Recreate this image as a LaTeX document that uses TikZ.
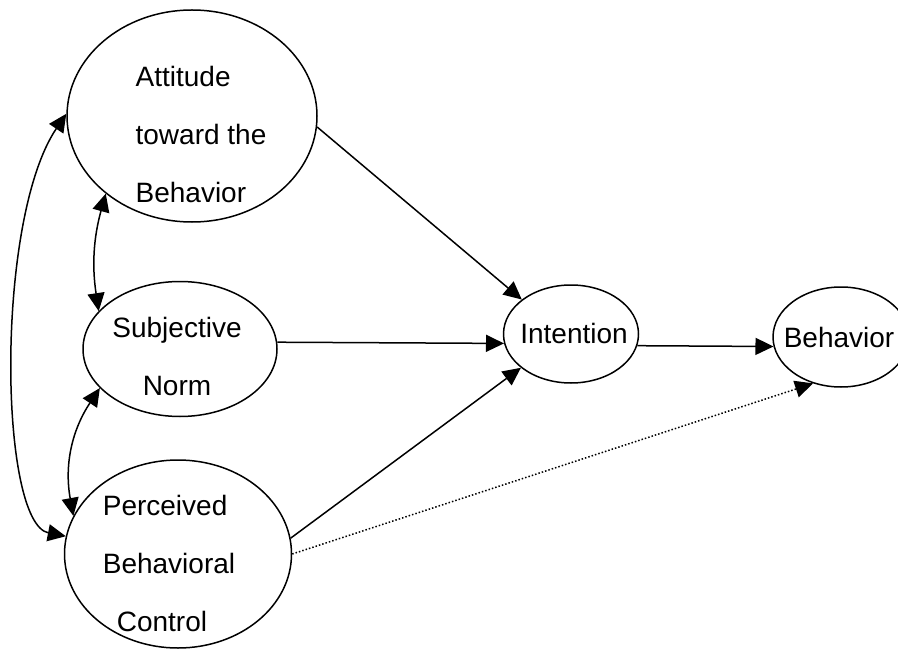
\documentclass[tikz,border=0pt]{standalone}
\usepackage{fontspec}
\setmainfont{Liberation Sans}
\usetikzlibrary{shapes.geometric,arrows.meta}

\begin{document}
\begin{tikzpicture}[x=0.5pt,y=0.5pt,line width=0.75pt,>={Triangle[length=9pt,width=8.5pt]}]

      \tikzstyle{construct}=[ellipse,draw,inner sep=0pt]
      \tikzstyle{lbl}=[font=\fontsize{14}{29}\selectfont,inner sep=0pt]

  \useasboundingbox (0,0) rectangle (898,649);

  \node[construct,minimum width=125pt,minimum height=106pt] (att) at (192,533) {};
  \node[construct,minimum width=97pt,minimum height=67.5pt] (sn) at (180,300) {};
  \node[construct,minimum width=113.5pt,minimum height=94pt] (pbc) at (178,95) {};
  \node[construct,minimum width=67.5pt,minimum height=49pt] (int) at (571,315) {};
  \node[construct,minimum width=68pt,minimum height=50pt] (beh) at (841,312) {};

  \node[lbl,align=left] (att text) at (201,515) {Attitude\\toward the\\Behavior};
  \node[lbl,align=center] (sn text) at (177,293) {Subjective\\Norm};
  \node[lbl,align=left] (pbc text) at (169,86) {Perceived\\Behavioral\\\hspace*{7pt}Control};
  \node[lbl] (int text) at (574,316) {Intention};
  \node[lbl] (beh text) at (839,312) {Behavior};

  \draw[->] (att.-5) -- (int.145);
  \draw[->] (sn.4) -- (int.188);
  \draw[->] (pbc.8) -- (int.214);
  \draw[->] (int.-10) -- (beh.188);
  \draw[->,densely dotted] (pbc.0) -- (beh.239);

  \draw[<->] (att.222) to[bend right=12] (sn.155);
  \draw[<->] (sn.206) to[bend right=22] (pbc.160);
  \draw[<->] (att.179) to[out=236,in=169,out distance=64pt,in distance=34pt] (pbc.171);

  %\draw[step=50,gray,very thin] (0,0) grid (898,649);

\end{tikzpicture}
\end{document}
